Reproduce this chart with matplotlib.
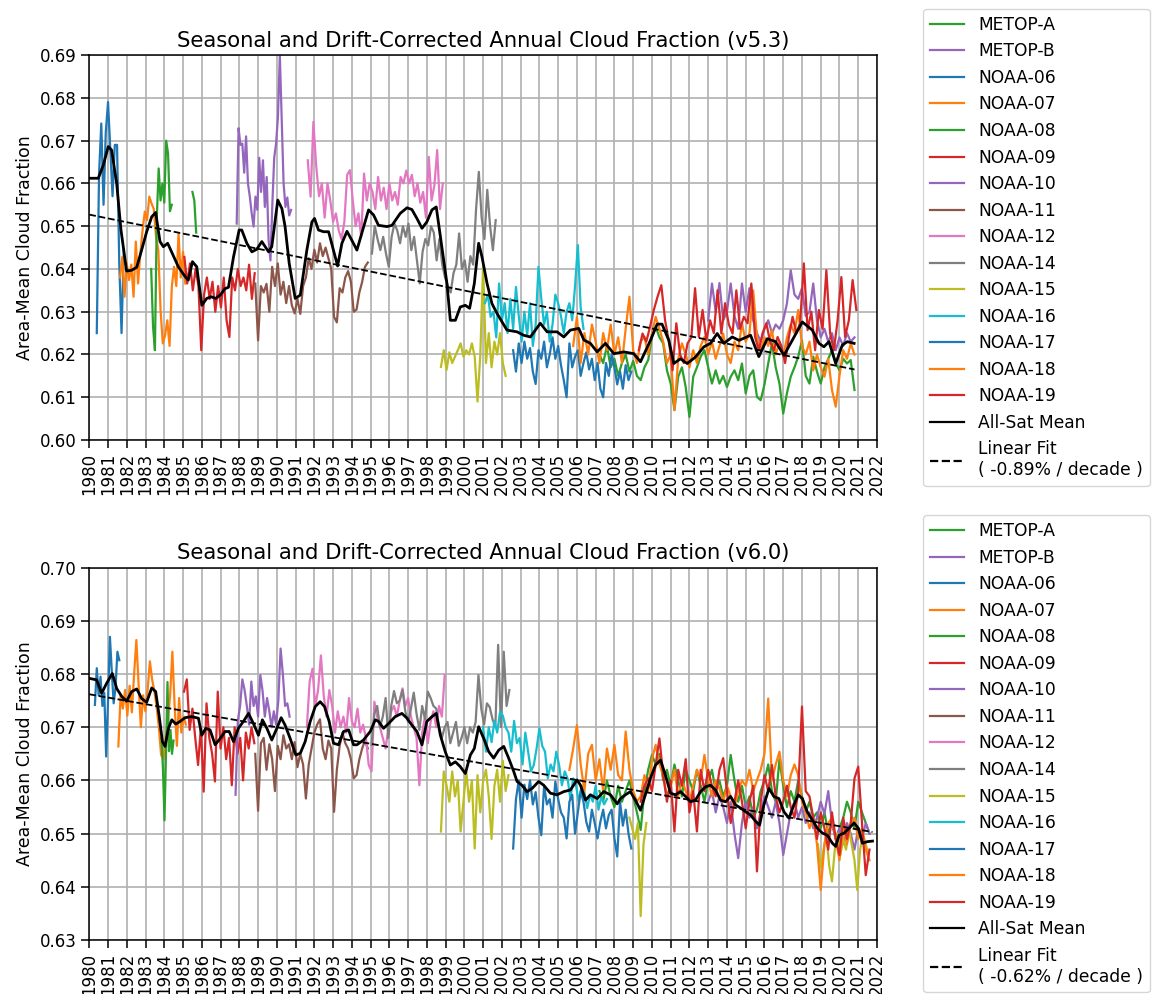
import numpy as np
import matplotlib
matplotlib.use("Agg")
import matplotlib.pyplot as plt

sat_names = ["METOP-A", "METOP-B", "NOAA-06", "NOAA-07", "NOAA-08", "NOAA-09", "NOAA-10",
             "NOAA-11", "NOAA-12", "NOAA-14", "NOAA-15", "NOAA-16", "NOAA-17", "NOAA-18", "NOAA-19"]
sat_colors = ["tab:green", "tab:purple", "tab:blue", "tab:orange", "tab:green", "tab:red", "tab:purple",
              "tab:brown", "tab:pink", "tab:gray", "tab:olive", "tab:cyan", "tab:blue", "tab:orange", "tab:red"]

# ---------------- v5.3 (top) ----------------
# (start year, step in years) for each satellite record
v53_start = {"METOP-A": (2007.2, 0.2), "METOP-B": (2013.0, 0.2), "NOAA-06": (1980.4, 0.12),
             "NOAA-07": (1981.64, 0.12), "NOAA-08": (1983.3, 0.1), "NOAA-09": (1985.07, 0.15),
             "NOAA-10": (1987.86, 0.1), "NOAA-11": (1988.85, 0.15), "NOAA-12": (1991.65, 0.15),
             "NOAA-14": (1995.07, 0.15), "NOAA-15": (1998.75, 0.15), "NOAA-16": (2001.1, 0.15),
             "NOAA-17": (2002.6, 0.15), "NOAA-18": (2005.8, 0.2), "NOAA-19": (2009.3, 0.2)}

v53_metopa = [0.6200, 0.6180, 0.6220, 0.6170, 0.6190, 0.6150, 0.6180, 0.6200, 0.6160, 0.6185, 0.6150, 0.6140,
              0.6170, 0.6187, 0.6241, 0.6265, 0.6240, 0.6226, 0.6163, 0.6132, 0.6070, 0.6148, 0.6170, 0.6124,
              0.6054, 0.6148, 0.6170, 0.6195, 0.6210, 0.6170, 0.6132, 0.6163, 0.6132, 0.6150, 0.6124, 0.6148,
              0.6163, 0.6140, 0.6179, 0.6109, 0.6150, 0.6163, 0.6101, 0.6093, 0.6130, 0.6179, 0.6226, 0.6170,
              0.6132, 0.6062, 0.6110, 0.6148, 0.6170, 0.6195, 0.6233, 0.6150, 0.6132, 0.6195, 0.6160, 0.6132,
              0.6170, 0.6190, 0.6210, 0.6180, 0.6163, 0.6190, 0.6179, 0.6187, 0.6117]
v53_metopb = [0.6280, 0.6366, 0.6300, 0.6367, 0.6280, 0.6300, 0.6366, 0.6290, 0.6260, 0.6366, 0.6300, 0.6355,
              0.6280, 0.6250, 0.6230, 0.6260, 0.6280, 0.6250, 0.6270, 0.6260, 0.6280, 0.6320, 0.6397, 0.6340,
              0.6330, 0.6355, 0.6290, 0.6300, 0.6366, 0.6280, 0.6240, 0.6260, 0.6230, 0.6250, 0.6210, 0.6240,
              0.6220, 0.6250, 0.6230, 0.6240]
v53_noaa06 = [0.625, 0.662, 0.674, 0.655, 0.672, 0.679, 0.668, 0.657, 0.669, 0.669, 0.641, 0.625, 0.6445]
v53_noaa07 = [0.6380, 0.6428, 0.6335, 0.6413, 0.6374, 0.6410, 0.6335, 0.6464, 0.6366, 0.6436, 0.6490, 0.6534,
              0.6514, 0.6569, 0.6553, 0.6540, 0.6475, 0.6444, 0.6304, 0.6226, 0.6245, 0.6280, 0.6220, 0.6358,
              0.6405, 0.6360, 0.6483, 0.6380, 0.6440, 0.6366]
v53_noaa08 = ([0.640, 0.6265, 0.621, 0.652, 0.6635, 0.656, 0.660, 0.6555, 0.670, 0.667, 0.6535, 0.655]
              + [None] * 10 + [0.658, 0.656, 0.6485])
v53_noaa09 = [0.6428, 0.6366, 0.6413, 0.6350, 0.6400, 0.6360, 0.6210, 0.6340, 0.6380, 0.6330, 0.6370, 0.6300,
              0.6360, 0.6310, 0.6380, 0.6280, 0.6241, 0.6380, 0.6350, 0.6400, 0.6360, 0.6380, 0.6350, 0.6410,
              0.6330, 0.6390]
v53_noaa10 = [0.6506, 0.6729, 0.669, 0.6693, 0.6625, 0.671, 0.660, 0.6569, 0.653, 0.6499, 0.6569, 0.6538,
              0.666, 0.658, 0.6654, 0.6545, 0.6615, 0.6467, 0.642, 0.655, 0.666, 0.6693, 0.6756, 0.690,
              0.675, 0.660, 0.6545, 0.6567, 0.6525, 0.6538]
v53_noaa11 = [0.6366, 0.6233, 0.6360, 0.6345, 0.6365, 0.6300, 0.6405, 0.6360, 0.6413, 0.6340, 0.6370, 0.6320,
              0.6360, 0.6315, 0.6296, 0.6330, 0.6295, 0.6360, 0.6380, 0.6425, 0.6400, 0.6445, 0.6415, 0.6460,
              0.6430, 0.6450, 0.6425, 0.6400, 0.6288, 0.6275, 0.6355, 0.6345, 0.6380, 0.6395, 0.6370, 0.6300,
              0.6305, 0.6345, 0.6370, 0.6405, 0.6415]
v53_noaa12 = [0.6654, 0.6569, 0.6744, 0.6640, 0.6570, 0.6600, 0.6520, 0.6600, 0.6560, 0.6510, 0.6530, 0.6490,
              0.6470, 0.6510, 0.6620, 0.6631, 0.6560, 0.6500, 0.6530, 0.6475, 0.6623, 0.6560, 0.6600, 0.6580,
              0.6540, 0.6615, 0.6560, 0.6590, 0.6540, 0.6600, 0.6560, 0.6580, 0.6550, 0.6615, 0.6600, 0.6630,
              0.6600, 0.6620, 0.6570, 0.6600, 0.6555, 0.6580, 0.6520, 0.6662, 0.6560, 0.6595, 0.6678, 0.6540,
              0.6600]
v53_noaa14 = [0.6436, 0.6500, 0.6470, 0.6444, 0.6475, 0.6436, 0.6405, 0.6475, 0.6506, 0.6490, 0.6460, 0.6500,
              0.6475, 0.6506, 0.6444, 0.6475, 0.6420, 0.6366, 0.6440, 0.6470, 0.6455, 0.6500, 0.6485, 0.6420,
              0.6470, 0.6410, 0.6380, 0.6360, 0.6345, 0.6390, 0.6410, 0.6483, 0.6400, 0.6420, 0.6370, 0.6430,
              0.6410, 0.6538, 0.6627, 0.6520, 0.6470, 0.6585, 0.6500, 0.6444, 0.6514]
v53_noaa15 = [0.6171, 0.6210, 0.6164, 0.6205, 0.6180, 0.6195, 0.6210, 0.6226, 0.6195, 0.6210, 0.6200, 0.6226,
              0.6195, 0.6090, 0.6200, 0.6410, 0.6180, 0.6250, 0.6170, 0.6230, 0.6200, 0.6250, 0.6180, 0.6150]
v53_noaa16 = [0.6320, 0.6340, 0.6288, 0.6300, 0.6240, 0.6366, 0.6280, 0.6320, 0.6250, 0.6330, 0.6260, 0.6358,
              0.6290, 0.6230, 0.6300, 0.6245, 0.6320, 0.6220, 0.6270, 0.6405, 0.6330, 0.6270, 0.6300, 0.6230,
              0.6270, 0.6340, 0.6320, 0.6290, 0.6250, 0.6300, 0.6320, 0.6280, 0.6360, 0.6456, 0.6310, 0.6260]
v53_noaa17 = [0.6210, 0.6160, 0.6226, 0.6180, 0.6230, 0.6190, 0.6215, 0.6160, 0.6131, 0.6210, 0.6190, 0.6230,
              0.6170, 0.6200, 0.6240, 0.6190, 0.6220, 0.6175, 0.6140, 0.6100, 0.6226, 0.6170, 0.6195, 0.6210,
              0.6150, 0.6180, 0.6205, 0.6165, 0.6190, 0.6140, 0.6180, 0.6120, 0.6100, 0.6180, 0.6150, 0.6200,
              0.6170, 0.6130, 0.6160, 0.6120, 0.6175, 0.6140, 0.6160]
v53_noaa18 = [0.6220, 0.6288, 0.6180, 0.6250, 0.6200, 0.6270, 0.6230, 0.6180, 0.6250, 0.6210, 0.6270, 0.6200,
              0.6240, 0.6180, 0.6260, 0.6335, 0.6210, 0.6180, 0.6230, 0.6241, 0.6200, 0.6250, 0.6288, 0.6260,
              0.6230, 0.6180, 0.6200, 0.6070, 0.6190, 0.6226, 0.6200, 0.6170, 0.6210, 0.6180, 0.6220, 0.6241,
              0.6200, 0.6230, 0.6190, 0.6220, 0.6249, 0.6200, 0.6180, 0.6230, 0.6210, 0.6273, 0.6230, 0.6250,
              0.6350, 0.6240, 0.6210, 0.6240, 0.6220, 0.6257, 0.6200, 0.6230, 0.6195, 0.6240, 0.6270, 0.6250,
              0.6304, 0.6220, 0.6200, 0.6230, 0.6163, 0.6200, 0.6170, 0.6148, 0.6190, 0.6117, 0.6078, 0.6150,
              0.6210, 0.6190, 0.6226, 0.6200]
v53_noaa19 = [0.6210, 0.6249, 0.6230, 0.6265, 0.6304, 0.6335, 0.6362, 0.6280, 0.6233, 0.6163, 0.6273, 0.6200,
              0.6180, 0.6226, 0.6240, 0.6355, 0.6241, 0.6304, 0.6233, 0.6280, 0.6250, 0.6350, 0.6249, 0.6320,
              0.6270, 0.6249, 0.6350, 0.6260, 0.6288, 0.6273, 0.6366, 0.6241, 0.6210, 0.6250, 0.6273, 0.6230,
              0.6210, 0.6241, 0.6220, 0.6180, 0.6240, 0.6288, 0.6250, 0.6273, 0.6413, 0.6257, 0.6300, 0.6210,
              0.6304, 0.6260, 0.6397, 0.6250, 0.6210, 0.6280, 0.6381, 0.6241, 0.6280, 0.6374, 0.6304]

v53_mean_year = [1980.0, 1980.48, 1980.75, 1981.01, 1981.19, 1981.46, 1981.69, 1981.99, 1982.26, 1982.53,
                 1982.79, 1983.06, 1983.33, 1983.54, 1983.77, 1983.95, 1984.18, 1984.43, 1984.75, 1985.11,
                 1985.28, 1985.5, 1985.73, 1986.0, 1986.26, 1986.49, 1986.74, 1986.98, 1987.24, 1987.42,
                 1987.69, 1987.99, 1988.13, 1988.4, 1988.67, 1988.93, 1989.2, 1989.56, 1989.73, 1990.05,
                 1990.27, 1990.44, 1990.66, 1990.98, 1991.25, 1991.6, 1991.87, 1992.01, 1992.22, 1992.49,
                 1992.76, 1993.02, 1993.24, 1993.47, 1993.74, 1994.0, 1994.27, 1994.89, 1995.16, 1995.42,
                 1995.87, 1996.14, 1996.58, 1996.94, 1997.2, 1997.47, 1997.74, 1998.0, 1998.27, 1998.5,
                 1998.75, 1999.07, 1999.25, 1999.52, 1999.78, 2000.05, 2000.28, 2000.53, 2000.76, 2000.94,
                 2001.21, 2001.47, 2001.74, 2002.27, 2002.81, 2003.16, 2003.52, 2004.05, 2004.41, 2004.94,
                 2005.3, 2005.65, 2006.1, 2006.37, 2006.72, 2007.08, 2007.52, 2007.97, 2008.5, 2009.03,
                 2009.39, 2009.92, 2010.28, 2010.54, 2010.9, 2011.17, 2011.52, 2011.88, 2012.32, 2012.77,
                 2013.12, 2013.48, 2013.84, 2014.28, 2014.64, 2015.26, 2015.7, 2016.15, 2016.59, 2017.04,
                 2017.48, 2018.02, 2018.55, 2018.91, 2019.17, 2019.44, 2019.8, 2020.15, 2020.42, 2020.78]
v53_mean = [0.6612, 0.6612, 0.6643, 0.6686, 0.6678, 0.6600, 0.6491, 0.6395, 0.6397, 0.6404,
            0.6444, 0.6487, 0.6522, 0.6532, 0.6464, 0.6452, 0.6460, 0.6436, 0.6405, 0.6382,
            0.6374, 0.6417, 0.6405, 0.6315, 0.6331, 0.6335, 0.6331, 0.6339, 0.6354, 0.6357,
            0.6428, 0.6491, 0.6491, 0.6460, 0.6440, 0.6446, 0.6464, 0.6440, 0.6452, 0.6561,
            0.6541, 0.6499, 0.6413, 0.6331, 0.6339, 0.6444, 0.6510, 0.6518, 0.6491, 0.6487,
            0.6487, 0.6444, 0.6407, 0.6460, 0.6488, 0.6467, 0.6444, 0.6538, 0.6526, 0.6502,
            0.6499, 0.6502, 0.6530, 0.6543, 0.6539, 0.6518, 0.6495, 0.6510, 0.6538, 0.6545,
            0.6467, 0.6366, 0.6280, 0.6280, 0.6311, 0.6315, 0.6308, 0.6366, 0.6460, 0.6428,
            0.6366, 0.6319, 0.6296, 0.6257, 0.6253, 0.6245, 0.6241, 0.6273, 0.6253, 0.6253,
            0.6241, 0.6257, 0.6261, 0.6234, 0.6226, 0.6206, 0.6226, 0.6202, 0.6206, 0.6202,
            0.6183, 0.6233, 0.6271, 0.6271, 0.6233, 0.6179, 0.6190, 0.6179, 0.6194, 0.6218,
            0.6226, 0.6249, 0.6226, 0.6241, 0.6233, 0.6245, 0.6195, 0.6237, 0.6230, 0.6198,
            0.6233, 0.6276, 0.6257, 0.6226, 0.6218, 0.6230, 0.6179, 0.6222, 0.6230, 0.6226]
v53_fit_year = [1980.0, 2020.8]
v53_fit = [0.6527, 0.6165]

# ---------------- v6.0 (bottom) ----------------
v60_start = {"METOP-A": (2007.2, 0.2), "METOP-B": (2013.0, 0.2), "NOAA-06": (1980.3, 0.1),
             "NOAA-07": (1981.55, 0.12), "NOAA-08": (1983.85, 0.08), "NOAA-09": (1985.05, 0.15),
             "NOAA-10": (1987.8, 0.12), "NOAA-11": (1988.85, 0.15), "NOAA-12": (1991.6, 0.15),
             "NOAA-14": (1995.05, 0.15), "NOAA-15": (1998.75, 0.15), "NOAA-16": (2001.0, 0.15),
             "NOAA-17": (2002.6, 0.15), "NOAA-18": (2005.6, 0.2), "NOAA-19": (2009.4, 0.2)}

v60_metopa = [0.6580, 0.6560, 0.6600, 0.6570, 0.6550, 0.6590, 0.6560, 0.6580, 0.6600, 0.6570, 0.6540, 0.6507,
              0.6580, 0.6620, 0.6648, 0.6630, 0.6650, 0.6600, 0.6620, 0.6590, 0.6630, 0.6600, 0.6570, 0.6620,
              0.6600, 0.6580, 0.6620, 0.6590, 0.6560, 0.6600, 0.6620, 0.6580, 0.6600, 0.6570, 0.6590, 0.6648,
              0.6600, 0.6560, 0.6590, 0.6550, 0.6570, 0.6530, 0.6545, 0.6580, 0.6600, 0.6630, 0.6580, 0.6560,
              0.6640, 0.6590, 0.6550, 0.6580, 0.6560, 0.6600, 0.6570, 0.6540, 0.6560, 0.6530, 0.6540, 0.6510,
              0.6540, 0.6500, 0.6520, 0.6490, 0.6510, 0.6530, 0.6560, 0.6540, 0.6510, 0.6560, 0.6540, 0.6520,
              0.6500]
v60_metopb = [0.6560, 0.6580, 0.6540, 0.6570, 0.6550, 0.6520, 0.6560, 0.6500, 0.6454, 0.6520, 0.6560, 0.6530,
              0.6550, 0.6510, 0.6540, 0.6570, 0.6550, 0.6530, 0.6560, 0.6520, 0.6460, 0.6500, 0.6540, 0.6560,
              0.6530, 0.6550, 0.6520, 0.6540, 0.6510, 0.6530, 0.6560, 0.6537, 0.6580, 0.6520, 0.6490, 0.6510,
              0.6480, 0.6520, 0.6500, 0.6470, 0.6510, 0.6490, 0.6520, 0.6500]
v60_noaa06 = [0.6742, 0.6811, 0.6760, 0.6795, 0.6740, 0.6765, 0.6645, 0.6750, 0.6870, 0.6805, 0.6745, 0.6775,
              0.6842, 0.6826]
v60_noaa07 = [0.6664, 0.6760, 0.6735, 0.6770, 0.6722, 0.6778, 0.6728, 0.6800, 0.6864, 0.6780, 0.6700, 0.6760,
              0.6730, 0.6770, 0.6824, 0.6790, 0.6768, 0.6738, 0.6700, 0.6648, 0.6640, 0.6680, 0.6710, 0.6760,
              0.6842, 0.6740, 0.6665, 0.6755, 0.6690, 0.6720, 0.6705]
v60_noaa08 = [0.668, 0.662, 0.6525, 0.665, 0.6785, 0.6655, 0.6695, 0.6650, 0.6675]
v60_noaa09 = [0.6767, 0.6790, 0.6695, 0.6735, 0.6680, 0.6629, 0.6700, 0.6579, 0.6745, 0.6680, 0.6650, 0.6598,
              0.6767, 0.6660, 0.6700, 0.6640, 0.6680, 0.6591, 0.6700, 0.6650, 0.6680, 0.6600, 0.6690, 0.6660,
              0.6700, 0.6670]
v60_noaa10 = [0.6573, 0.6712, 0.6740, 0.6790, 0.6770, 0.6740, 0.6705, 0.6786, 0.6740, 0.6758, 0.6720, 0.6798,
              0.6768, 0.6720, 0.6755, 0.6730, 0.6700, 0.6730, 0.6705, 0.6750, 0.6848, 0.6800, 0.6740, 0.6745,
              0.6720]
v60_noaa11 = [0.6650, 0.6543, 0.6670, 0.6680, 0.6620, 0.6668, 0.6640, 0.6580, 0.6665, 0.6640, 0.6685, 0.6660,
              0.6668, 0.6640, 0.6672, 0.6625, 0.6650, 0.6630, 0.6566, 0.6630, 0.6660, 0.6690, 0.6705, 0.6715,
              0.6660, 0.6640, 0.6675, 0.6660, 0.6541, 0.6620, 0.6665, 0.6690, 0.6670, 0.6660, 0.6640, 0.6604,
              0.6610, 0.6640, 0.6660, 0.6675, 0.6660]
v60_noaa12 = [0.6700, 0.6786, 0.6810, 0.6740, 0.6770, 0.6835, 0.6760, 0.6720, 0.6770, 0.6740, 0.6690, 0.6730,
              0.6700, 0.6720, 0.6690, 0.6755, 0.6711, 0.6700, 0.6735, 0.6690, 0.6705, 0.6680, 0.6629, 0.6617,
              0.6748, 0.6720, 0.6700, 0.6680, 0.6660, 0.6700, 0.6730, 0.6740, 0.6720, 0.6750, 0.6773, 0.6740,
              0.6755, 0.6720, 0.6700, 0.6680, 0.6591, 0.6690, 0.6720, 0.6670, 0.6710, 0.6730, 0.6700, 0.6740,
              0.6720, 0.6798]
v60_noaa14 = [0.6667, 0.6725, 0.6740, 0.6700, 0.6720, 0.6755, 0.6680, 0.6740, 0.6768, 0.6745, 0.6750, 0.6770,
              0.6730, 0.6710, 0.6735, 0.6765, 0.6725, 0.6695, 0.6740, 0.6715, 0.6767, 0.6755, 0.6740, 0.6735,
              0.6700, 0.6680, 0.6700, 0.6710, 0.6670, 0.6690, 0.6710, 0.6665, 0.6680, 0.6700, 0.6670, 0.6700,
              0.6690, 0.6710, 0.6798, 0.6735, 0.6705, 0.6745, 0.6738, 0.6715, 0.6700, 0.6855, 0.6700, 0.6842,
              0.6740, 0.6770]
v60_noaa15 = ([0.6504, 0.6617, 0.6590, 0.6560, 0.6617, 0.6570, 0.6600, 0.6504, 0.6560, 0.6617, 0.6560, 0.6600,
               0.6472, 0.6610, 0.6540, 0.6600, 0.6620, 0.6570, 0.6490, 0.6590, 0.6620, 0.6560, 0.6637, 0.6580,
               0.6610]
              + [None] * 42 + [0.6530, 0.6510, 0.6490, 0.6520, 0.6345, 0.6480, 0.6520]
              + [None] * 60 + [0.6480, 0.6437, 0.6470, 0.6500, 0.6440, 0.6410, 0.6470, 0.6500, 0.6460, 0.6490,
                               0.6470, 0.6510, 0.6480, 0.6450, 0.6394, 0.6470, 0.6500, 0.6480, 0.6460])
v60_noaa16 = [0.6700, 0.6654, 0.6700, 0.6672, 0.6712, 0.6690, 0.6729, 0.6722, 0.6700, 0.6690, 0.6654, 0.6712,
              0.6670, 0.6680, 0.6630, 0.6690, 0.6654, 0.6617, 0.6629, 0.6660, 0.6698, 0.6665, 0.6654, 0.6604,
              0.6630, 0.6617, 0.6654, 0.6629, 0.6591, 0.6617, 0.6604, 0.6566, 0.6604, 0.6591, 0.6560, 0.6590,
              0.6578, 0.6548, 0.6573, 0.6560, 0.6590, 0.6545, 0.6570, 0.6555, 0.6565]
v60_noaa17 = [0.6472, 0.6565, 0.6600, 0.6530, 0.6592, 0.6565, 0.6600, 0.6555, 0.6578, 0.6530, 0.6497, 0.6590,
              0.6555, 0.6565, 0.6530, 0.6598, 0.6565, 0.6540, 0.6530, 0.6491, 0.6560, 0.6573, 0.6500, 0.6540,
              0.6580, 0.6560, 0.6522, 0.6504, 0.6545, 0.6520, 0.6491, 0.6522, 0.6545, 0.6510, 0.6535, 0.6545,
              0.6491, 0.6457, 0.6560, 0.6515, 0.6545, 0.6500, 0.6472]
v60_noaa18 = [0.6620, 0.6660, 0.6704, 0.6630, 0.6580, 0.6650, 0.6667, 0.6600, 0.6640, 0.6580, 0.6660, 0.6620,
              0.6667, 0.6610, 0.6600, 0.6692, 0.6620, 0.6580, 0.6560, 0.6570, 0.6610, 0.6580, 0.6640, 0.6667,
              0.6630, 0.6610, 0.6570, 0.6590, 0.6620, 0.6570, 0.6600, 0.6580, 0.6560, 0.6590, 0.6620, 0.6600,
              0.6648, 0.6600, 0.6570, 0.6600, 0.6585, 0.6560, 0.6590, 0.6570, 0.6550, 0.6580, 0.6600, 0.6590,
              0.6620, 0.6580, 0.6600, 0.6620, 0.6650, 0.6754, 0.6600, 0.6630, 0.6654, 0.6600, 0.6570, 0.6610,
              0.6630, 0.6610, 0.6560, 0.6540, 0.6510, 0.6530, 0.6480, 0.6394, 0.6480, 0.6520, 0.6530, 0.6490,
              0.6450, 0.6510, 0.6480, 0.6520, 0.6530, 0.6490, 0.6510, 0.6470, 0.6450]
v60_noaa19 = [0.6560, 0.6590, 0.6604, 0.6580, 0.6630, 0.6679, 0.6610, 0.6560, 0.6600, 0.6504, 0.6620, 0.6590,
              0.6640, 0.6540, 0.6580, 0.6504, 0.6620, 0.6580, 0.6620, 0.6590, 0.6570, 0.6620, 0.6642, 0.6580,
              0.6520, 0.6560, 0.6600, 0.6560, 0.6510, 0.6560, 0.6590, 0.6429, 0.6560, 0.6610, 0.6580, 0.6629,
              0.6570, 0.6540, 0.6560, 0.6590, 0.6550, 0.6530, 0.6580, 0.6739, 0.6580, 0.6570, 0.6530, 0.6490,
              0.6540, 0.6510, 0.6470, 0.6540, 0.6490, 0.6460, 0.6530, 0.6490, 0.6520, 0.6604, 0.6626, 0.6520,
              0.6422, 0.6470]

v60_mean_year = [1980.0, 1980.39, 1980.66, 1980.93, 1981.23, 1981.46, 1981.73, 1981.99, 1982.26, 1982.53,
                 1982.79, 1983.06, 1983.33, 1983.54, 1983.72, 1983.9, 1984.04, 1984.22, 1984.4, 1984.61,
                 1984.84, 1985.11, 1985.46, 1985.82, 1986.0, 1986.21, 1986.44, 1986.71, 1986.98, 1987.24,
                 1987.46, 1987.69, 1987.95, 1988.22, 1988.49, 1988.75, 1989.02, 1989.23, 1989.47, 1989.73,
                 1990.0, 1990.23, 1990.44, 1990.71, 1991.01, 1991.25, 1991.51, 1991.78, 1992.05, 1992.31,
                 1992.54, 1992.79, 1993.02, 1993.29, 1993.56, 1993.83, 1994.09, 1994.27, 1994.62, 1994.98,
                 1995.25, 1995.42, 1995.69, 1995.96, 1996.31, 1996.67, 1996.94, 1997.2, 1997.47, 1997.74,
                 1998.0, 1998.27, 1998.5, 1998.72, 1998.98, 1999.25, 1999.52, 1999.78, 2000.05, 2000.32,
                 2000.53, 2000.76, 2001.03, 2001.3, 2001.56, 2001.83, 2002.1, 2002.36, 2002.63, 2002.81,
                 2003.07, 2003.34, 2003.61, 2003.96, 2004.23, 2004.59, 2004.94, 2005.3, 2005.65, 2006.01,
                 2006.19, 2006.46, 2006.72, 2007.08, 2007.43, 2007.79, 2008.15, 2008.32, 2008.59, 2008.85,
                 2009.12, 2009.39, 2009.65, 2009.92, 2010.19, 2010.46, 2010.72, 2010.99, 2011.26, 2011.52,
                 2011.79, 2012.06, 2012.32, 2012.59, 2012.86, 2013.12, 2013.39, 2013.66, 2013.93, 2014.19,
                 2014.46, 2014.73, 2015.0, 2015.26, 2015.53, 2015.74, 2015.97, 2016.24, 2016.5, 2016.77,
                 2017.04, 2017.31, 2017.57, 2017.8, 2018.02, 2018.28, 2018.55, 2018.82, 2019.09, 2019.35,
                 2019.62, 2019.8, 2019.98, 2020.25, 2020.51, 2020.78, 2021.01, 2021.22, 2021.49, 2021.76]
v60_mean = [0.6792, 0.6789, 0.6764, 0.6783, 0.6801, 0.6773, 0.6758, 0.6749, 0.6767, 0.6772,
            0.6754, 0.6747, 0.6774, 0.6767, 0.6723, 0.6673, 0.6664, 0.6698, 0.6714, 0.6706,
            0.6711, 0.6718, 0.6720, 0.6717, 0.6685, 0.6698, 0.6695, 0.6667, 0.6679, 0.6692,
            0.6692, 0.6673, 0.6698, 0.6711, 0.6726, 0.6707, 0.6685, 0.6714, 0.6698, 0.6676,
            0.6698, 0.6718, 0.6704, 0.6679, 0.6648, 0.6651, 0.6673, 0.6711, 0.6739, 0.6748,
            0.6739, 0.6711, 0.6670, 0.6667, 0.6692, 0.6695, 0.6667, 0.6667, 0.6676, 0.6692,
            0.6714, 0.6711, 0.6698, 0.6707, 0.6720, 0.6726, 0.6717, 0.6704, 0.6692, 0.6667,
            0.6711, 0.6720, 0.6726, 0.6685, 0.6654, 0.6629, 0.6635, 0.6626, 0.6613, 0.6648,
            0.6660, 0.6701, 0.6679, 0.6654, 0.6642, 0.6657, 0.6664, 0.6642, 0.6617, 0.6598,
            0.6591, 0.6579, 0.6585, 0.6598, 0.6591, 0.6576, 0.6573, 0.6579, 0.6582, 0.6601,
            0.6591, 0.6563, 0.6573, 0.6566, 0.6579, 0.6573, 0.6556, 0.6566, 0.6573, 0.6579,
            0.6563, 0.6544, 0.6573, 0.6604, 0.6629, 0.6638, 0.6610, 0.6576, 0.6573, 0.6579,
            0.6570, 0.6560, 0.6563, 0.6579, 0.6588, 0.6591, 0.6582, 0.6563, 0.6560, 0.6570,
            0.6554, 0.6548, 0.6541, 0.6535, 0.6523, 0.6516, 0.6554, 0.6585, 0.6570, 0.6566,
            0.6541, 0.6529, 0.6554, 0.6573, 0.6566, 0.6541, 0.6526, 0.6510, 0.6501, 0.6497,
            0.6482, 0.6476, 0.6497, 0.6501, 0.6510, 0.6520, 0.6510, 0.6482, 0.6485, 0.6486]
v60_fit_year = [1980.0, 2021.76]
v60_fit = [0.6762, 0.6503]

panels = [
    {"title": "Seasonal and Drift-Corrected Annual Cloud Fraction (v5.3)",
     "start": v53_start,
     "series": [v53_metopa, v53_metopb, v53_noaa06, v53_noaa07, v53_noaa08, v53_noaa09, v53_noaa10,
                v53_noaa11, v53_noaa12, v53_noaa14, v53_noaa15, v53_noaa16, v53_noaa17, v53_noaa18, v53_noaa19],
     "mean": (v53_mean_year, v53_mean), "fit": (v53_fit_year, v53_fit),
     "fit_label": "Linear Fit\n( -0.89% / decade )", "ylim": (0.60, 0.69)},
    {"title": "Seasonal and Drift-Corrected Annual Cloud Fraction (v6.0)",
     "start": v60_start,
     "series": [v60_metopa, v60_metopb, v60_noaa06, v60_noaa07, v60_noaa08, v60_noaa09, v60_noaa10,
                v60_noaa11, v60_noaa12, v60_noaa14, v60_noaa15, v60_noaa16, v60_noaa17, v60_noaa18, v60_noaa19],
     "mean": (v60_mean_year, v60_mean), "fit": (v60_fit_year, v60_fit),
     "fit_label": "Linear Fit\n( -0.62% / decade )", "ylim": (0.63, 0.70)},
]

fig = plt.figure(figsize=(11.55, 9.94), dpi=100)
ax_pos = [[0.0773, 0.5573, 0.682, 0.3873], [0.0773, 0.0543, 0.682, 0.3746]]

for pos, p in zip(ax_pos, panels):
    ax = fig.add_axes(pos)
    for name, col, vals in zip(sat_names, sat_colors, p["series"]):
        t0, dt = p["start"][name]
        v = np.array(vals, dtype=float)
        t = t0 + dt * np.arange(len(v))
        ax.plot(t, v, color=col, lw=1.6, label=name)
    ax.plot(p["mean"][0], p["mean"][1], color="black", lw=2.0, label="All-Sat Mean")
    ax.plot(p["fit"][0], p["fit"][1], color="black", ls="--", lw=1.3, label=p["fit_label"])

    ax.set_xlim(1980, 2022)
    ax.set_ylim(*p["ylim"])
    ax.set_xticks(range(1980, 2023))
    ax.set_xticklabels([str(y) for y in range(1980, 2023)], rotation=90)
    ax.set_yticks(np.round(np.arange(p["ylim"][0], p["ylim"][1] + 0.001, 0.01), 2))
    ax.yaxis.set_major_formatter(matplotlib.ticker.FormatStrFormatter("%.2f"))
    ax.tick_params(labelsize=12, length=5.5, width=1.1)
    ax.grid(True, color="#b0b0b0", lw=1.2)
    for s in ax.spines.values():
        s.set_linewidth(1.1)
    ax.set_ylabel("Area-Mean Cloud Fraction", fontsize=12.5)
    ax.set_title(p["title"], fontsize=15.2)
    leg = ax.legend(loc="center left", bbox_to_anchor=(1.048, 0.5), fontsize=12.3, labelspacing=0.5)
    for line in leg.get_lines():
        line.set_linewidth(1.6)

fig.savefig("out.png", dpi=100)
